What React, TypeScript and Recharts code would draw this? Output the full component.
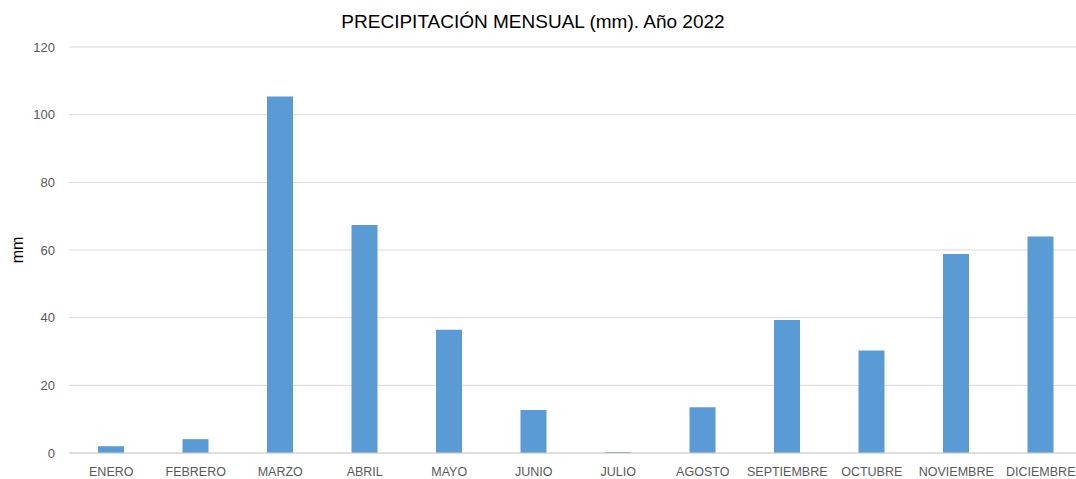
import React from 'react';
import { BarChart, Bar, XAxis, YAxis, CartesianGrid } from 'recharts';

const months = ['ENERO', 'FEBRERO', 'MARZO', 'ABRIL', 'MAYO', 'JUNIO', 'JULIO', 'AGOSTO', 'SEPTIEMBRE', 'OCTUBRE', 'NOVIEMBRE', 'DICIEMBRE'];
const precip = [2.0, 4.1, 105.4, 67.4, 36.4, 12.7, 0.3, 13.5, 39.3, 30.3, 58.8, 64.0];
const yTicks = [0, 20, 40, 60, 80, 100, 120];
const title = 'PRECIPITACIÓN MENSUAL (mm). Año 2022';

const data = months.map((m, i) => ({ month: m, value: precip[i] }));

const font = '"Liberation Sans", Arial, sans-serif';

export default function App() {
  return (
    <div style={{ position: 'absolute', left: 0, top: 0, width: 1076, height: 479, background: '#fff', fontFamily: font, overflow: 'hidden' }}>
      <div style={{ position: 'absolute', left: 0, top: 8, width: 1066, textAlign: 'center', fontSize: 19, color: '#000', lineHeight: '28px' }}>
        {title}
      </div>
      <BarChart width={1076} height={479} data={data} margin={{ top: 47, right: -7, bottom: 0, left: 0 }} style={{ overflow: 'hidden' }}>
        <CartesianGrid horizontal vertical={false} stroke="#d9d9d9" />
        <XAxis
          dataKey="month"
          height={26}
          axisLine={{ stroke: '#d0d0d0' }}
          tickLine={false}
          interval={0}
          tick={{ fontSize: 12.5, fill: '#595959', fontFamily: font }}
          tickMargin={8}
        />
        <YAxis
          width={69}
          domain={[0, 120]}
          ticks={yTicks}
          axisLine={false}
          tickLine={false}
          tickSize={6}
          tickMargin={8}
          tick={{ fontSize: 13, fill: '#595959', fontFamily: font }}
          label={{
            value: 'mm',
            content: () => (
              <text x={17} y={250} transform="rotate(-90 17 250)" textAnchor="middle" dominantBaseline="central" fontSize={16} fill="#000" fontFamily={font}>
                mm
              </text>
            ),
          }}
        />
        <Bar dataKey="value" fill="#5B9BD5" barSize={26} isAnimationActive={false} />
      </BarChart>
    </div>
  );
}
